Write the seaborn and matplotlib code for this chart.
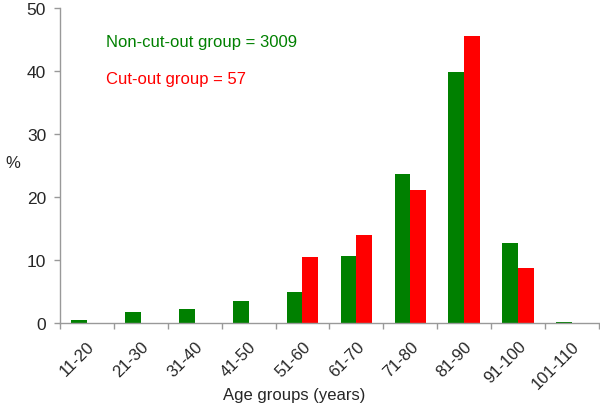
import pandas as pd
import matplotlib.pyplot as plt
import seaborn as sns

# Data
age_groups = ['11-20', '21-30', '31-40', '41-50', '51-60',
              '61-70', '71-80', '81-90', '91-100', '101-110']
non_cut_out = [0.5, 1.7, 2.2, 3.5, 4.9, 10.7, 23.6, 39.9, 12.7, 0.1]
cut_out = [0, 0, 0, 0, 10.5, 14.0, 21.1, 45.6, 8.8, 0]
y_ticks = [0, 10, 20, 30, 40, 50]

df = pd.DataFrame({
    'age': age_groups * 2,
    'pct': non_cut_out + cut_out,
    'group': ['Non-cut-out'] * len(age_groups) + ['Cut-out'] * len(age_groups),
})

sns.set_theme(style="white")
plt.rcParams['font.family'] = ['Liberation Sans', 'DejaVu Sans']

fig = plt.figure(figsize=(6, 4.06), dpi=100)
ax = fig.add_axes([0.1, 0.202, 0.898, 0.776])

sns.barplot(data=df, x='age', y='pct', hue='group', order=age_groups,
            hue_order=['Non-cut-out', 'Cut-out'],
            palette={'Non-cut-out': '#008000', 'Cut-out': '#ff0000'},
            width=0.58, gap=0, saturation=1, linewidth=0, legend=False, ax=ax)

ax.set_xlim(-0.5, len(age_groups) - 0.5)
ax.set_ylim(0, 50)
ax.set_yticks(y_ticks)

# spines and ticks
for s in ['top', 'right']:
    ax.spines[s].set_visible(False)
for s in ['left', 'bottom']:
    ax.spines[s].set_color('#999999')
    ax.spines[s].set_linewidth(1)

ax.tick_params(axis='y', which='major', left=True, length=4, width=1,
               color='#999999', labelsize=12.5, pad=6)
ax.tick_params(axis='x', which='major', bottom=False, labelsize=12, pad=5)
ax.set_xticks([i - 0.5 for i in range(len(age_groups) + 1)], minor=True)
ax.tick_params(axis='x', which='minor', bottom=True, length=4, width=1,
               color='#999999')
for lbl in ax.get_xticklabels():
    lbl.set_rotation(45)
    lbl.set_ha('right')
    lbl.set_rotation_mode('anchor')

ax.set_ylabel('%', rotation=0, fontsize=12, va='center')
ax.yaxis.set_label_coords(-0.088, 0.51)
ax.set_xlabel('Age groups (years)', fontsize=12)
ax.xaxis.set_label_coords(0.435, -0.203)

ax.text(0.085, 0.892, 'Non-cut-out group = 3009', color='#008000',
        fontsize=12, va='center', transform=ax.transAxes)
ax.text(0.085, 0.775, 'Cut-out group = 57', color='#ff0000',
        fontsize=12, va='center', transform=ax.transAxes)

plt.savefig("out.png", dpi=100)
